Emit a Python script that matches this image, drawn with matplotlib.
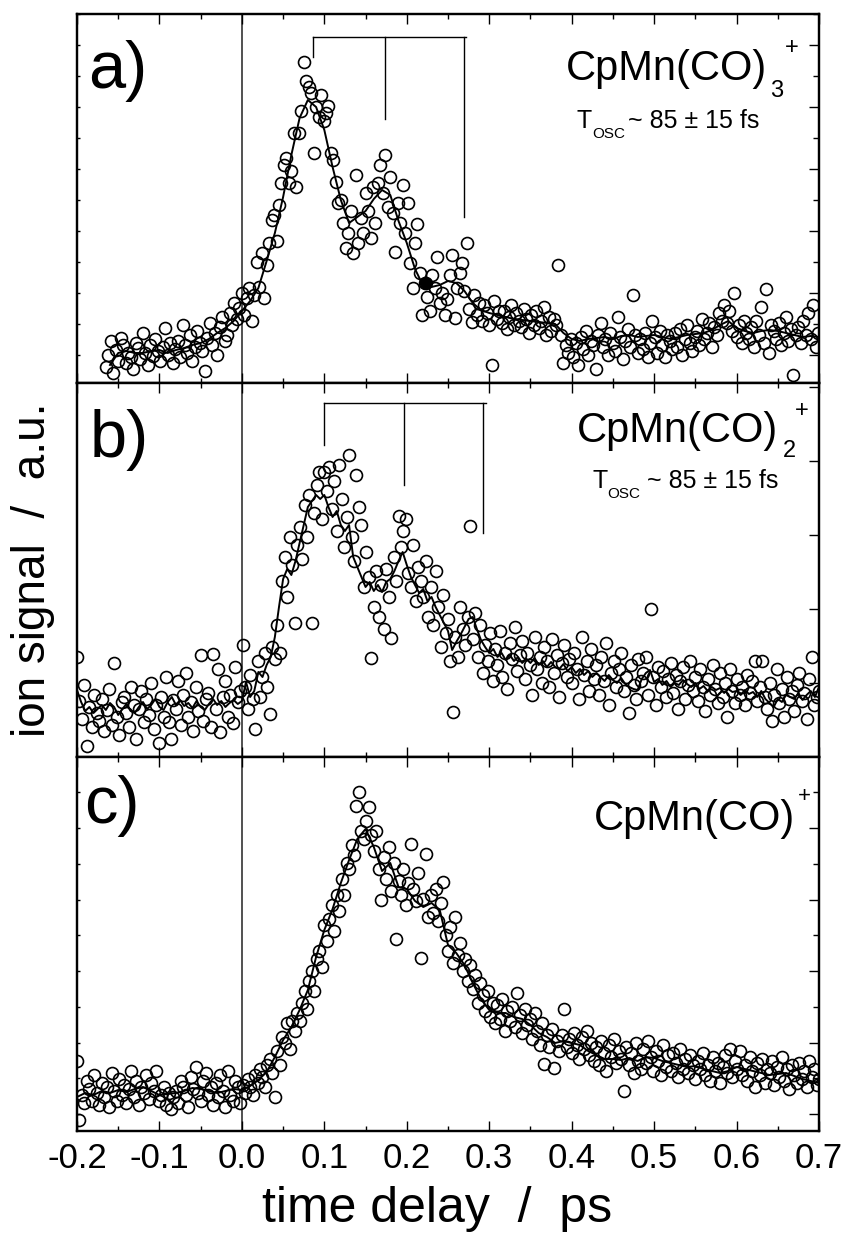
import matplotlib.pyplot as plt
import numpy as np
from matplotlib.ticker import MultipleLocator, FuncFormatter

plt.rcParams['font.family'] = ['Liberation Sans', 'DejaVu Sans']
plt.rcParams['axes.unicode_minus'] = False

# delay scans, time grid start / step in ps
t0_a, t0_bc, dt_scan = -0.165, -0.2, 0.003

# a) CpMn(CO)3+  (signal in a.u.)
scan_a = [16, 28, 42, 10, 33, 22, 45, 38, 20, 30,
          26, 14, 40, 35, 24, 50, 30, 18, 38, 27,
          44, 32, 22, 36, 55, 28, 40, 20, 34, 42,
          26, 58, 38, 30, 48, 22, 36, 52, 40, 32,
          12, 45, 60, 38, 50, 28, 56, 66, 42, 48,
          70, 58, 80, 64, 75, 90, 68, 85, 95, 62,
          88, 121, 96, 130, 85, 118, 140, 163, 168, 142,
          178, 200, 218, 225, 200, 212, 250, 196, 250, 272,
          321, 302, 296, 290, 230, 276, 266, 288, 262, 270,
          277, 230, 223, 201, 180, 183, 160, 135, 150, 172,
          130, 208, 140, 165, 150, 190, 172, 145, 196, 160,
          200, 218, 190, 228, 176, 206, 170, 131, 180, 160,
          198, 150, 180, 120, 95, 140, 159, 110, 68, 100,
          86, 72, 108, 95, 126, 80, 90, 68, 84, 108,
          128, 65, 95, 110, 120, 92, 140, 74, 61, 88,
          68, 80, 62, 78, 70, 58, 18, 82, 64, 72,
          60, 72, 54, 66, 78, 58, 70, 62, 56, 74,
          64, 50, 68, 58, 72, 55, 62, 76, 48, 66,
          52, 64, 58, 118, 48, 20, 38, 30, 44, 26,
          40, 18, 46, 34, 52, 28, 42, 38, 14, 48,
          60, 36, 44, 28, 50, 40, 32, 66, 46, 24,
          42, 54, 36, 88, 48, 30, 44, 34, 50, 26,
          40, 62, 46, 30, 52, 38, 26, 48, 42, 34,
          50, 36, 54, 28, 44, 58, 40, 32, 46, 52,
          38, 64, 44, 50, 60, 36, 56, 48, 70, 62,
          78, 60, 72, 52, 90, 46, 58, 40, 62, 50,
          44, 56, 36, 62, 48, 76, 40, 94, 30, 58,
          52, 44, 60, 38, 50, 66, 42, 54, 8, 48,
          56, 40, 62, 48, 70, 44, 78, 36, 50]
fit_a_t0, fit_a_dt = -0.16, 0.01
fit_a = [18, 30, 32, 30, 30, 32, 33, 30, 33, 35,
         38, 40, 44, 50, 55, 62, 72, 82, 95, 122,
         150, 186, 228, 265, 283, 276, 253, 216, 183, 160,
         166, 172, 184, 193, 188, 162, 140, 114, 97, 96,
         98, 102, 100, 92, 80, 73, 70, 68, 66, 64,
         63, 62, 61, 60, 59, 50, 44, 42, 44, 45,
         46, 44, 47, 48, 46, 47, 48, 46, 44, 46,
         48, 49, 50, 53, 58, 62, 55, 52, 50, 52,
         53, 52, 50, 48, 46, 47, 46]
dot_a = (0.2235, 100)

# b) CpMn(CO)2+
scan_b = [100, 56, 38, 72, 11, 50, 30, 62, 44, 36,
          58, 26, 47, 68, 32, 94, 40, 22, 55, 60,
          44, 30, 70, 52, 18, 48, 66, 35, 58, 42,
          74, 28, 52, 14, 60, 40, 80, 35, 18, 57,
          48, 76, 32, 62, 84, 40, 55, 26, 70, 46,
          102, 36, 58, 64, 30, 103, 48, 88, 25, 60,
          76, 40, 62, 34, 90, 55, 66, 112, 70, 48,
          82, 58, 28, 96, 60, 80, 104, 70, 43, 110,
          98, 132, 104, 176, 200, 160, 220, 192, 134, 212,
          230, 198, 252, 220, 262, 134, 244, 272, 285, 238,
          285, 266, 290, 248, 276, 226, 292, 258, 210, 240,
          302, 220, 196, 282, 250, 232, 170, 205, 180, 99,
          150, 186, 140, 172, 128, 188, 160, 119, 200, 176,
          241, 210, 226, 238, 184, 170, 212, 156, 190, 176,
          160, 196, 140, 170, 132, 186, 150, 110, 162, 124,
          138, 96, 45, 120, 100, 150, 128, 112, 140, 231,
          118, 144, 100, 132, 84, 112, 96, 124, 76, 108,
          92, 126, 80, 104, 68, 114, 98, 130, 86, 102,
          116, 78, 104, 92, 62, 120, 88, 100, 74, 110,
          96, 70, 118, 84, 102, 60, 94, 112, 80, 98,
          74, 104, 88, 58, 120, 82, 96, 66, 108, 78,
          92, 62, 100, 76, 114, 52, 84, 96, 70, 88,
          104, 66, 80, 44, 92, 72, 58, 98, 76, 84,
          100, 62, 148, 80, 52, 90, 70, 86, 60, 78,
          94, 64, 82, 48, 76, 90, 58, 72, 96, 66,
          80, 56, 88, 70, 46, 78, 62, 92, 68, 54,
          84, 60, 74, 40, 88, 66, 54, 78, 62, 70,
          52, 82, 64, 76, 96, 56, 70, 96, 60, 48,
          74, 36, 62, 88, 54, 68, 40, 80, 58, 66,
          46, 72, 84, 56, 64, 38, 78, 100, 52, 60,
          66]
fit_b_t0, fit_b_dt = -0.2, 0.005
fit_b = [67, 55, 46, 50, 44, 48, 52, 47, 54, 50,
         42, 48, 53, 46, 44, 50, 55, 48, 52, 58,
         50, 47, 55, 60, 52, 57, 51, 54, 49, 56,
         50, 47, 53, 58, 52, 56, 50, 54, 57, 53,
         56, 75, 60, 66, 85, 80, 92, 100, 120, 150,
         178, 188, 182, 196, 214, 232, 250, 256, 262, 258,
         262, 250, 240, 246, 232, 226, 232, 200, 190, 180,
         170, 175, 166, 172, 165, 175, 178, 186, 196, 205,
         192, 180, 172, 164, 168, 156, 160, 150, 142, 134,
         126, 107, 115, 122, 130, 138, 140, 128, 117, 110,
         104, 108, 100, 104, 97, 102, 96, 100, 94, 98,
         94, 99, 92, 96, 90, 95, 90, 88, 93, 86,
         90, 84, 88, 82, 86, 80, 84, 80, 76, 82,
         77, 74, 79, 73, 70, 68, 67, 78, 84, 87,
         75, 78, 72, 76, 70, 74, 72, 77, 73, 70,
         74, 68, 71, 66, 70, 67, 69, 64, 68, 65,
         66, 62, 67, 63, 65, 60, 66, 58, 54, 50,
         58, 55, 62, 60, 58, 64, 57, 62, 66, 60,
         70]

# c) CpMn(CO)+
scan_c = [70, 11, 36, 28, 50, 42, 30, 56, 38, 26,
          48, 34, 44, 24, 58, 40, 30, 52, 36, 46,
          28, 42, 60, 34, 50, 26, 44, 38, 56, 32,
          48, 40, 60, 30, 36, 44, 26, 38, 22, 34,
          40, 28, 50, 44, 36, 24, 54, 42, 64, 38,
          30, 50, 58, 36, 44, 26, 48, 34, 56, 40,
          24, 60, 36, 30, 50, 44, 28, 46, 38, 52,
          44, 36, 56, 48, 62, 54, 44, 66, 72, 58,
          34, 80, 66, 94, 88, 108, 82, 110, 100, 118,
          110, 128, 140, 122, 150, 160, 140, 172, 180, 164,
          206, 190, 212, 226, 200, 236, 220, 252, 236, 268,
          262, 286, 276, 325, 339, 300, 292, 310, 324, 296,
          280, 300, 262, 231, 274, 252, 284, 240, 268, 192,
          250, 236, 262, 226, 248, 287, 242, 230, 258, 173,
          232, 277, 214, 236, 218, 242, 210, 228, 249, 196,
          180, 204, 168, 214, 176, 188, 160, 172, 150, 166,
          142, 156, 128, 148, 136, 120, 140, 114, 128, 108,
          126, 112, 132, 100, 120, 110, 124, 104, 138, 116,
          98, 122, 106, 112, 92, 118, 100, 86, 108, 67,
          96, 84, 102, 63, 90, 80, 96, 122, 84, 92,
          78, 98, 86, 72, 94, 82, 100, 76, 88, 70,
          84, 66, 90, 78, 60, 86, 74, 92, 68, 80,
          72, 40, 84, 66, 78, 58, 88, 70, 62, 82,
          68, 90, 74, 60, 80, 70, 56, 86, 64, 76,
          60, 78, 68, 54, 82, 62, 72, 58, 76, 66,
          52, 70, 62, 78, 56, 66, 50, 74, 60, 68,
          48, 64, 76, 58, 82, 54, 70, 62, 80, 56,
          66, 50, 74, 60, 44, 68, 56, 72, 48, 62,
          58, 70, 46, 64, 54, 74, 50, 62, 42, 66,
          56, 48, 68, 52, 60, 44, 70, 54, 62, 46,
          52]
fit_c_t0, fit_c_dt = -0.2, 0.01
fit_c = [34, 38, 36, 40, 38, 41, 39, 42, 44, 40,
         36, 37, 38, 40, 43, 42, 40, 38, 40, 42,
         41, 45, 51, 59, 74, 91, 104, 121, 141, 174,
         201, 222, 248, 271, 292, 302, 284, 260, 268, 244,
         242, 230, 224, 228, 221, 186, 178, 166, 148, 132,
         121, 118, 118, 114, 112, 106, 98, 94, 88, 90,
         88, 86, 80, 76, 72, 72, 71, 73, 70, 74,
         73, 70, 68, 66, 64, 65, 62, 60, 58, 60,
         64, 62, 60, 58, 56, 57, 58, 55, 52, 50,
         48]

# oscillation markers (ps) and their lower ends (a.u.)
osc_a_t = [0.086, 0.174, 0.269]
osc_a_top, osc_a_end = 346, [326, 264, 166]
osc_b_t = [0.100, 0.197, 0.293]
osc_b_top, osc_b_end = 354, [312, 272, 224]


def grid(t0, dt, n):
    return t0 + dt * np.arange(n)


W, H = 845, 1237
fig = plt.figure(figsize=(W / 100, H / 100), dpi=100)


def fx(x):
    return x / W


def fy(y):
    return 1 - y / H


boxes = [(14, 383), (383, 757), (757, 1131)]
ylims = [369, 374, 374]
panels = [
    (grid(t0_a, dt_scan, len(scan_a)), scan_a, grid(fit_a_t0, fit_a_dt, len(fit_a)), fit_a),
    (grid(t0_bc, dt_scan, len(scan_b)), scan_b, grid(fit_b_t0, fit_b_dt, len(fit_b)), fit_b),
    (grid(t0_bc, dt_scan, len(scan_c)), scan_c, grid(fit_c_t0, fit_c_dt, len(fit_c)), fit_c),
]
# right tick spacing (major, minor, offset) per panel
rticks = [(62, 31, 28), (74, None, 0), (71.5, 35.75, 17)]

axes = []
for i, ((top, bot), (ts, ys, tf, yf)) in enumerate(zip(boxes, panels)):
    ax = fig.add_axes([fx(77), fy(bot), (819 - 77) / W, (bot - top) / H])
    ax.plot(ts, ys, 'o', mfc='none', mec='k', ms=8.6, mew=1.2, zorder=2)
    ax.plot(tf, yf, '-', color='k', lw=1.4, zorder=3)
    ax.axvline(0, color='#333333', lw=1.2, zorder=1)
    ax.set_xlim(-0.2, 0.7)
    ax.set_ylim(0, ylims[i])
    for s in ax.spines.values():
        s.set_linewidth(1.6)
    ax.xaxis.set_major_locator(MultipleLocator(0.1))
    ax.xaxis.set_minor_locator(MultipleLocator(0.05))
    ax.xaxis.set_major_formatter(FuncFormatter(lambda v, p: f'{v:.1f}'.replace('-0.0', '0.0')))
    ax.tick_params(axis='x', which='both', direction='in', top=True, bottom=True, width=1.0)
    ax.tick_params(axis='x', which='major', length=7, labelsize=25, pad=8)
    ax.tick_params(axis='x', which='minor', length=3.5)
    if i < 2:
        ax.tick_params(axis='x', labelbottom=False)
    maj, mnr, off = rticks[i]
    ax.yaxis.set_major_locator(MultipleLocator(mnr if mnr else maj, offset=off))
    ax.yaxis.set_major_formatter(plt.NullFormatter())
    ax.tick_params(axis='y', which='both', direction='in', length=2 if i != 1 else 0,
                   width=1.0, left=True, right=False)
    axr = ax.twinx()
    axr.set_ylim(0, ylims[i])
    axr.yaxis.set_major_locator(MultipleLocator(maj, offset=off))
    if mnr:
        axr.yaxis.set_minor_locator(MultipleLocator(mnr, offset=off))
    axr.yaxis.set_major_formatter(plt.NullFormatter())
    axr.tick_params(axis='y', which='major', direction='in', length=7, width=1.0)
    axr.tick_params(axis='y', which='minor', direction='in', length=4, width=1.0)
    for s in axr.spines.values():
        s.set_linewidth(1.6)
    axes.append(ax)

ax_a, ax_b, ax_c = axes
ax_a.plot(*dot_a, 'o', color='k', ms=8.6, zorder=4)

# oscillation brackets
for ax, ts, top, ends in [(ax_a, osc_a_t, osc_a_top, osc_a_end),
                          (ax_b, osc_b_t, osc_b_top, osc_b_end)]:
    ax.plot([ts[0], ts[-1] + 0.003], [top, top], color='k', lw=1.0)
    for t, e in zip(ts, ends):
        ax.plot([t, t], [top, e], color='k', lw=1.0)

# panel letters
fig.text(fx(88), fy(88), 'a)', fontsize=48, va='baseline')
fig.text(fx(90), fy(457), 'b)', fontsize=48, va='baseline')
fig.text(fx(84), fy(823), 'c)', fontsize=48, va='baseline')

# species labels
fig.text(fx(767), fy(80), 'CpMn(CO)', fontsize=30, ha='right', va='baseline')
fig.text(fx(770), fy(97), '3', fontsize=17, va='baseline')
fig.text(fx(792), fy(48), '+', fontsize=17, ha='center', va='center')
fig.text(fx(577), fy(128), 'T', fontsize=18, va='baseline')
fig.text(fx(592), fy(138), 'OSC', fontsize=11, va='baseline')
fig.text(fx(628), fy(128), '~ 85 ± 15 fs', fontsize=18, va='baseline')

fig.text(fx(778), fy(442), 'CpMn(CO)', fontsize=30, ha='right', va='baseline')
fig.text(fx(783), fy(457), '2', fontsize=17, va='baseline')
fig.text(fx(802), fy(411), '+', fontsize=17, ha='center', va='center')
fig.text(fx(593), fy(488), 'T', fontsize=18, va='baseline')
fig.text(fx(607), fy(498), 'OSC', fontsize=11, va='baseline')
fig.text(fx(647), fy(488), '~ 85 ± 15 fs', fontsize=18, va='baseline')

fig.text(fx(795), fy(830), 'CpMn(CO)', fontsize=30, ha='right', va='baseline')
fig.text(fx(804), fy(797), '+', fontsize=16, ha='center', va='center')

# axis titles
fig.text(fx(33), fy(570), 'ion signal  /  a.u.', rotation=90, fontsize=33,
         ha='center', va='center')
fig.text(fx(437), fy(1222), 'time delay  /  ps', fontsize=36, ha='center', va='baseline')

fig.savefig('out.png', dpi=100)
